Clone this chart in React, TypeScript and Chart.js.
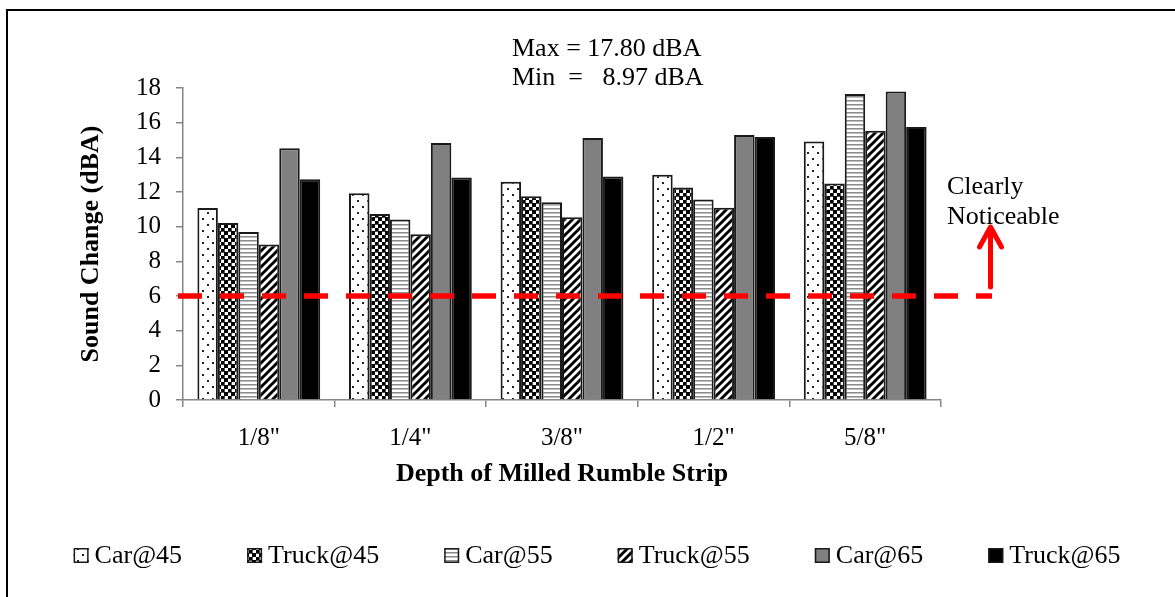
import React, { useEffect, useRef } from "react";
import { Chart, registerables } from "chart.js";

Chart.register(...registerables);

// ---------- data ----------
const categories = ['1/8"', '1/4"', '3/8"', '1/2"', '5/8"'];
const seriesNames = ["Car@45", "Truck@45", "Car@55", "Truck@55", "Car@65", "Truck@65"];
const car45 = [11.07, 11.93, 12.59, 12.99, 14.91];
const truck45 = [10.21, 10.73, 11.76, 12.26, 12.49];
const car55 = [9.69, 10.42, 11.41, 11.57, 17.66];
const truck55 = [8.97, 9.56, 10.55, 11.09, 15.53];
const car65 = [14.52, 14.83, 15.12, 15.29, 17.8];
const truck65 = [12.74, 12.84, 12.9, 15.18, 15.75];
const yTicks = [0, 2, 4, 6, 8, 10, 12, 14, 16, 18];
const thresholdValue = 6;
const maxLabel = "Max = 17.80 dBA";
const minLabel = "Min  =   8.97 dBA";
const noteLines = ["Clearly", "Noticeable"];
const xTitle = "Depth of Milled Rumble Strip";
const yTitle = "Sound Change (dBA)";

const FONT = '"Liberation Serif", "Times New Roman", Times, serif';
const AXIS_GRAY = "#868686";

type PatternKind = "dots" | "checker" | "hstripes" | "diag" | "gray" | "black";
const seriesPatterns: PatternKind[] = ["dots", "checker", "hstripes", "diag", "gray", "black"];

function makeFill(kind: PatternKind): string | CanvasPattern {
  if (kind === "gray") return "#808080";
  if (kind === "black") return "#000000";
  const c = document.createElement("canvas");
  const g = c.getContext("2d")!;
  if (kind === "dots") {
    c.width = 10; c.height = 12;
    g.fillStyle = "#ffffff"; g.fillRect(0, 0, 10, 12);
    g.fillStyle = "#222222";
    g.fillRect(2, 2, 2, 2);
    g.fillRect(7, 8, 2, 2);
  } else if (kind === "checker") {
    c.width = 7; c.height = 7;
    g.fillStyle = "#ffffff"; g.fillRect(0, 0, 7, 7);
    g.fillStyle = "#000000";
    g.fillRect(0, 0, 4, 4);
    g.fillRect(4, 4, 3, 3);
    g.fillStyle = "#555555";
    g.fillRect(4, 0, 3, 1);
    g.fillRect(0, 4, 1, 3);
  } else if (kind === "hstripes") {
    c.width = 4; c.height = 4;
    g.fillStyle = "#ffffff"; g.fillRect(0, 0, 4, 4);
    g.fillStyle = "#8c8c8c"; g.fillRect(0, 0, 4, 1);
    g.fillStyle = "#c0c0c0"; g.fillRect(0, 1, 4, 1);
  } else if (kind === "diag") {
    c.width = 8; c.height = 8;
    g.fillStyle = "#ffffff"; g.fillRect(0, 0, 8, 8);
    g.strokeStyle = "#000000"; g.lineWidth = 3;
    for (const o of [-8, 0, 8]) {
      g.beginPath();
      g.moveTo(o - 1, 9);
      g.lineTo(o + 9, -1);
      g.stroke();
    }
  }
  return g.createPattern(c, "repeat")!;
}

const overlayPlugin = {
  id: "overlay",
  afterDatasetsDraw(chart: any) {
    const { ctx, scales } = chart;
    const x = scales.x;
    const y = scales.y;
    const yp = y.getPixelForValue(thresholdValue);
    const endX = chart.chartArea.right + 51;
    ctx.save();
    // dashed threshold line
    ctx.strokeStyle = "#ff0000";
    ctx.lineWidth = 5.5;
    ctx.lineCap = "butt";
    ctx.setLineDash([24, 18]);
    ctx.beginPath();
    ctx.moveTo(x.left - 5, yp);
    ctx.lineTo(endX, yp);
    ctx.stroke();
    ctx.setLineDash([]);
    // arrow
    const ax = endX - 1.5;
    ctx.lineWidth = 5;
    ctx.lineCap = "round";
    ctx.lineJoin = "round";
    ctx.beginPath();
    ctx.moveTo(ax, yp - 9);
    ctx.lineTo(ax, yp - 68);
    ctx.stroke();
    ctx.beginPath();
    ctx.moveTo(ax - 11, yp - 49);
    ctx.lineTo(ax, yp - 69);
    ctx.lineTo(ax + 11, yp - 49);
    ctx.stroke();
    ctx.restore();
  },
  afterDraw(chart: any) {
    const { ctx } = chart;
    ctx.save();
    ctx.fillStyle = "#000";
    ctx.textBaseline = "alphabetic";
    ctx.textAlign = "left";
    ctx.font = `26px ${FONT}`;
    ctx.fillText(maxLabel, 512, 56);
    ctx.fillText(minLabel, 512, 85);
    ctx.fillText(noteLines[0], 947, 194);
    ctx.fillText(noteLines[1], 947, 224);

    // legend
    const box = 15;
    const gap = 6;
    const spacing = 65;
    const widths = chart.data.datasets.map((d: any) => ctx.measureText(d.label).width);
    const total =
      widths.reduce((a: number, b: number) => a + b, 0) +
      chart.data.datasets.length * (box + gap) +
      (chart.data.datasets.length - 1) * spacing;
    let lx = 597 - total / 2;
    const base = 563;
    chart.data.datasets.forEach((d: any, i: number) => {
      ctx.fillStyle = d.backgroundColor;
      ctx.fillRect(lx, base - box, box, box);
      ctx.strokeStyle = "#1a1a1a";
      ctx.lineWidth = 1.5;
      ctx.strokeRect(lx + 0.75, base - box + 0.75, box - 1.5, box - 1.5);
      ctx.fillStyle = "#000";
      ctx.fillText(d.label, lx + box + gap, base);
      lx += box + gap + widths[i] + spacing;
    });

    // outer frame
    ctx.strokeStyle = "#000";
    ctx.lineWidth = 2;
    ctx.strokeRect(7, 10, 1400, 800);
    ctx.restore();
  },
};

export default function App() {
  const ref = useRef<HTMLCanvasElement | null>(null);
  useEffect(() => {
    if (!ref.current) return;
    const seriesValues = [car45, truck45, car55, truck55, car65, truck65];
    const chart = new Chart(ref.current, {
      type: "bar",
      data: {
        labels: categories,
        datasets: seriesNames.map((name, i) => ({
          label: name,
          data: seriesValues[i],
          backgroundColor: makeFill(seriesPatterns[i]) as any,
          borderColor: "#1a1a1a",
          borderWidth: 2,
          categoryPercentage: 0.81,
          barPercentage: 1,
        })),
      },
      options: {
        responsive: false,
        animation: false,
        layout: { padding: { left: 72, right: 234, top: 88, bottom: 103 } },
        plugins: {
          legend: { display: false },
          tooltip: { enabled: false },
        },
        scales: {
          x: {
            grid: {
              display: true,
              drawOnChartArea: false,
              drawTicks: true,
              tickLength: 7,
              color: AXIS_GRAY,
              lineWidth: 1.5,
              offset: true,
            },
            border: { display: true, color: AXIS_GRAY, width: 1.5 },
            ticks: { color: "#000", font: { family: FONT, size: 25 }, padding: 16 },
            title: {
              display: true,
              text: xTitle,
              color: "#000",
              font: { family: FONT, size: 26, weight: "bold" },
              padding: { top: 4, bottom: 4 },
            },
            afterFit: (s: any) => {
              s.height = 94;
            },
          },
          y: {
            min: 0,
            max: 18,
            afterBuildTicks: (s: any) => {
              s.ticks = yTicks.map((v) => ({ value: v }));
            },
            grid: {
              display: true,
              drawOnChartArea: false,
              drawTicks: true,
              tickLength: 7,
              color: AXIS_GRAY,
              lineWidth: 1.5,
            },
            border: { display: true, color: AXIS_GRAY, width: 1.5 },
            ticks: { color: "#000", font: { family: FONT, size: 25 }, padding: 15 },
            title: {
              display: true,
              text: yTitle,
              color: "#000",
              font: { family: FONT, size: 26, weight: "bold" },
              padding: { top: 4, bottom: 4 },
            },
            afterFit: (s: any) => {
              s.width = 111;
            },
          },
        },
      },
      plugins: [overlayPlugin],
    });
    return () => chart.destroy();
  }, []);
  return (
    <div style={{ position: "absolute", left: 0, top: 0, width: 1175, height: 597, background: "#fff" }}>
      <canvas ref={ref} width={1175} height={597} style={{ display: "block" }} />
    </div>
  );
}
